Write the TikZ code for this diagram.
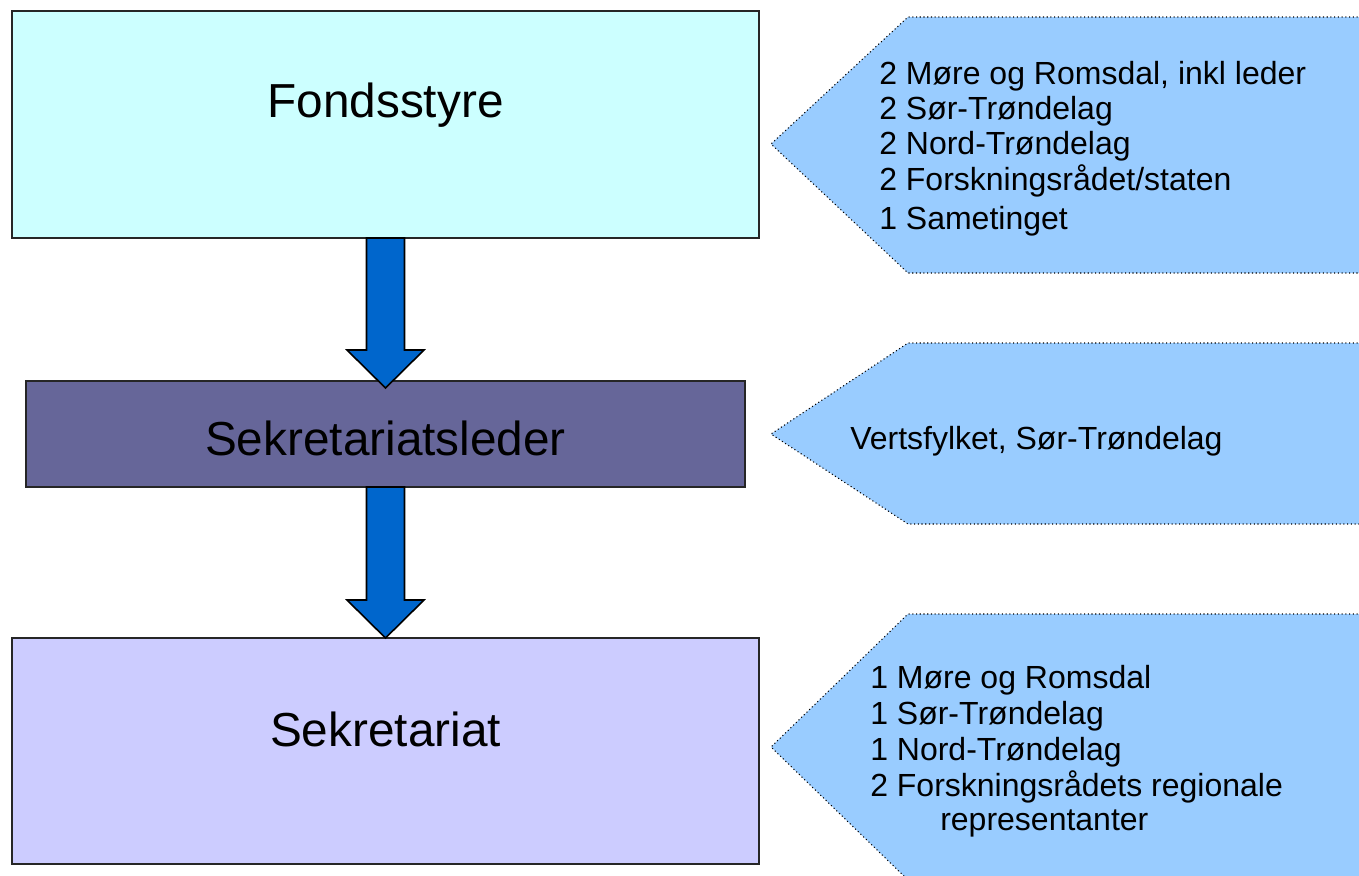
\documentclass[tikz,border=0pt]{standalone}
\usepackage{fontspec}
\setmainfont{Liberation Sans}
\usetikzlibrary{calc}
\definecolor{cyanbox}{HTML}{CCFFFF}
\definecolor{leaderbox}{HTML}{666699}
\definecolor{sekbox}{HTML}{CCCCFF}
\definecolor{pentblue}{HTML}{99CCFF}
\definecolor{arrowblue}{HTML}{0066CC}
\begin{document}
\begin{tikzpicture}[x=0.75pt,y=-0.75pt,
  box/.style={draw=black!85,line width=1.5pt,inner sep=0pt,outer sep=0pt,rectangle},
  bigtext/.style={font=\fontsize{35.8}{40}\selectfont,inner sep=0pt,anchor=base},
  listtext/.style={font=\fontsize{24.0}{28}\selectfont,inner sep=0pt,anchor=base west},
  pentfill/.style={fill=pentblue},
  pentline/.style={draw=black,line width=0.8pt,dotted},
  blockarrow/.style={fill=arrowblue,draw=black,line width=1.2pt,line join=miter}]
\useasboundingbox (0,0) rectangle (1359,875);
\fill[white] (0,0) rectangle (1359,875);

% boxes
\node[box,fill=cyanbox,minimum width=560.25pt,minimum height=170.25pt] (f) at (385.5,124.5) {};
\node[box,fill=leaderbox,minimum width=539.25pt,minimum height=79.5pt] (l) at (385.5,434) {};
\node[box,fill=sekbox,minimum width=560.25pt,minimum height=169.5pt] (s) at (385.5,751) {};

\node[bigtext] (ft) at (385.5,117) {Fondsstyre};
\node[bigtext] (lt) at (385.5,455) {Sekretariatsleder};
\node[bigtext] (st) at (385.5,746) {Sekretariat};

% block arrows
\coordinate (t1) at ($(l.north)+(0,7)$);
\coordinate (t2) at (s.north);
\draw[blockarrow] ($(f.south)+(-19,0)$) -- ($(t1)+(-19,-38)$) -- ($(t1)+(-38.5,-38)$) -- (t1)
  -- ($(t1)+(38.5,-38)$) -- ($(t1)+(19,-38)$) -- ($(f.south)+(19,0)$) -- cycle;
\draw[blockarrow] ($(l.south)+(-19,0)$) -- ($(t2)+(-19,-38)$) -- ($(t2)+(-38.5,-38)$) -- (t2)
  -- ($(t2)+(38.5,-38)$) -- ($(t2)+(19,-38)$) -- ($(l.south)+(19,0)$) -- cycle;

% pentagons
\fill[pentfill] (1380,17) -- (908,17) -- (771,144) -- (908,273) -- (1380,273) -- cycle;
\draw[pentline] (1380,17) -- (908,17) -- (771,144) -- (908,273) -- (1380,273);
\fill[pentfill] (1380,343) -- (908,343) -- (771,434) -- (908,524) -- (1380,524) -- cycle;
\draw[pentline] (1380,343) -- (908,343) -- (771,434) -- (908,524) -- (1380,524);
\fill[pentfill] (1380,614) -- (908,614) -- (771,747) -- (908,880) -- (1380,880) -- cycle;
\draw[pentline] (1380,614) -- (908,614) -- (771,747) -- (908,880) -- (1380,880);

% list texts
\node[listtext] (a1) at (879,84) {2 Møre og Romsdal, inkl leder};
\node[listtext] (a2) at (879,119) {2 Sør-Trøndelag};
\node[listtext] (a3) at (879,154) {2 Nord-Trøndelag};
\node[listtext] (a4) at (879,190) {2 Forskningsrådet/staten};
\node[listtext] (a5) at (879,229) {1 Sametinget};

\node[listtext] (b1) at (850,449) {Vertsfylket, Sør-Trøndelag};

\node[listtext] (c1) at (870,688) {1 Møre og Romsdal};
\node[listtext] (c2) at (870,724) {1 Sør-Trøndelag};
\node[listtext] (c3) at (870,760) {1 Nord-Trøndelag};
\node[listtext] (c4) at (870,796) {2 Forskningsrådets regionale};
\node[listtext] (c5) at (940,830) {representanter};
\end{tikzpicture}
\end{document}
